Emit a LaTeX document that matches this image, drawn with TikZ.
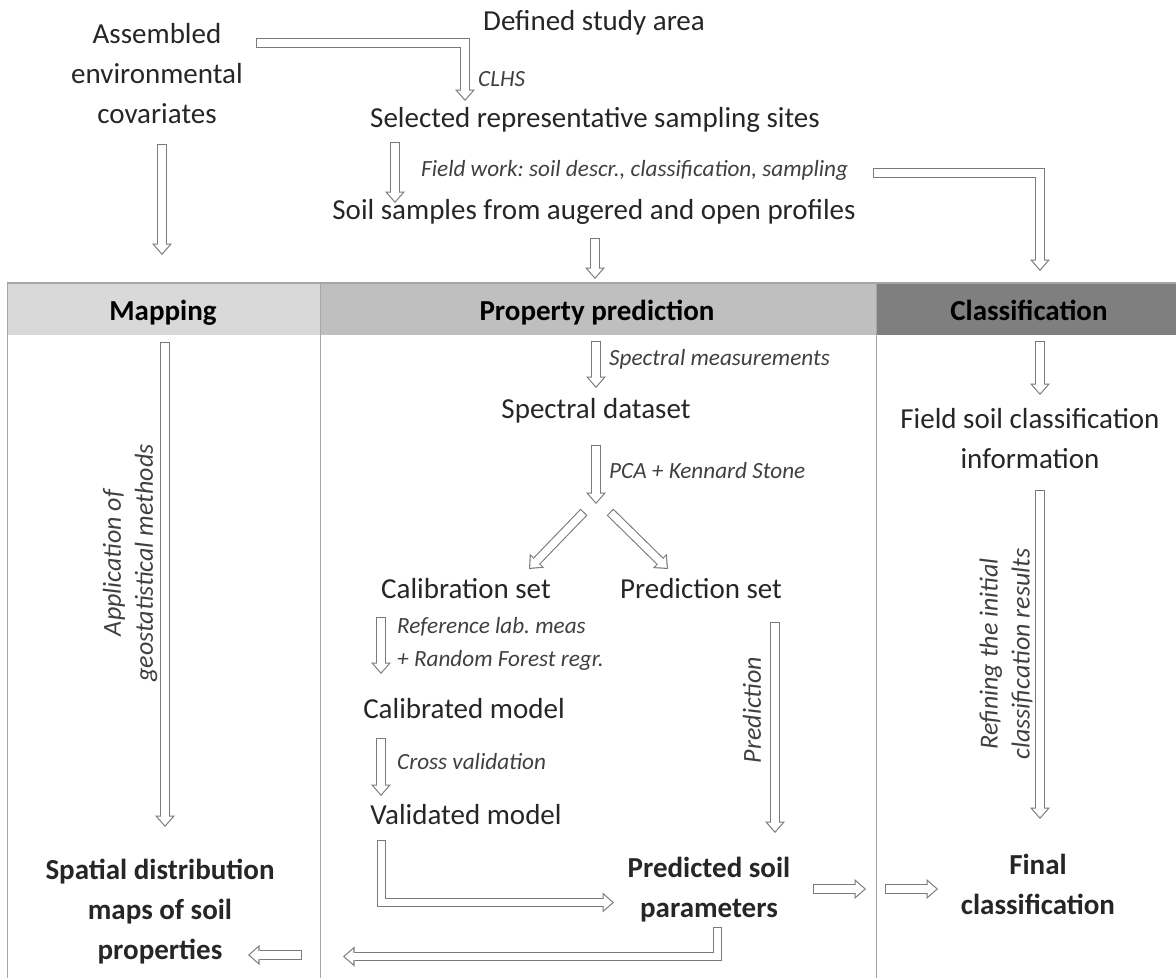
\documentclass[tikz,border=0pt]{standalone}
\usepackage{fontspec}
\setmainfont{Carlito}
\frenchspacing
\usetikzlibrary{arrows.meta}
\definecolor{txt}{HTML}{262626}
\definecolor{lbl}{HTML}{404040}
\definecolor{agray}{HTML}{7A7A7A}
\definecolor{hA}{HTML}{D9D9D9}
\definecolor{hB}{HTML}{BFBFBF}
\definecolor{hC}{HTML}{7F7F7F}
\definecolor{rulec}{HTML}{A6A6A6}
\begin{document}
\begin{tikzpicture}[x=1pt,y=-1pt,
  txtnode/.style={text=txt, font=\fontsize{29}{40}\selectfont, align=center, inner sep=0pt},
  boldnode/.style={text=txt, font=\fontsize{29}{40}\selectfont\bfseries, align=center, inner sep=0pt},
  headnode/.style={text=black, font=\fontsize{29}{40}\selectfont\bfseries, inner sep=0pt, anchor=base},
  lblnode/.style={text=lbl, font=\fontsize{23.2}{33}\selectfont\itshape, align=center, inner sep=0pt},
  rotlbl/.style={text=lbl, font=\fontsize{26}{32}\selectfont\itshape, align=center, inner sep=0pt, rotate=90},
  harrow/.style={draw=agray, line width=9.5pt, line join=miter,
    -{Triangle[length=11.5pt,width=20pt,line width=0pt]},
    postaction={draw=white, line width=7.3pt, line join=miter,
      -{Triangle[length=8.7pt,width=15.1pt,line width=0pt]},
      shorten >=1.7pt, shorten <=1.1pt}}
]
\path[use as bounding box] (0,0) rectangle (1176,978);

% panels
\fill[hA] (7,283) rectangle (320,335);
\fill[hB] (320,283) rectangle (876,335);
\fill[hC] (876,283) rectangle (1176,335);
\draw[rulec, line width=1.2pt] (7,283) -- (1176,283);
\draw[rulec, line width=1pt] (7,283) -- (7,978);
\draw[rulec, line width=1pt] (320,283) -- (320,978);
\draw[rulec, line width=1pt] (876,283) -- (876,978);

% headers
\node[headnode] (hmap) at (163,320) {Mapping};
\node[headnode] (hprop) at (597,320) {Property prediction};
\node[headnode] (hclass) at (1029,320) {Classification};

% top part
\node[txtnode] (assembled) at (157,74) {Assembled\\environmental\\covariates};
\node[txtnode] (study) at (594,23) {Defined study area};
\node[lblnode, anchor=west] (clhs) at (478,79) {CLHS};
\node[txtnode] (sites) at (595,120) {Selected representative sampling sites};
\node[lblnode, anchor=west] (field) at (421,170) {Field work: soil descr., classification, sampling};
\node[txtnode] (samples) at (594,212) {Soil samples from augered and open profiles};

% property prediction column
\node[lblnode, anchor=west] (specm) at (609,359) {Spectral measurements};
\node[txtnode] (specd) at (596,411) {Spectral dataset};
\node[lblnode, anchor=west] (pca) at (609,471) {PCA + Kennard Stone};
\node[txtnode] (calset) at (466,589) {Calibration set};
\node[txtnode] (predset) at (701,589) {Prediction set};
\node[lblnode, anchor=north west, align=left] (reflab) at (397,617) {Reference lab. meas\\+ Random Forest regr.};
\node[txtnode] (calmod) at (464,709) {Calibrated model};
\node[lblnode, anchor=west] (cross) at (397,762) {Cross validation};
\node[txtnode] (valmod) at (466,815) {Validated model};
\node[boldnode] (predsoil) at (709,890) {Predicted soil\\parameters};
\node[rotlbl] (predlbl) at (752,710) {Prediction};

% mapping column
\node[rotlbl] (geolbl) at (130,563) {Application of\\geostatistical methods};
\node[boldnode] (spatial) at (160,912) {Spatial distribution\\maps of soil\\properties};

% classification column
\node[txtnode] (fieldsoil) at (1030,439) {Field soil classification\\information};
\node[rotlbl] (reflbl) at (1006,654) {Refining the initial\\classification results};
\node[boldnode] (final) at (1038,884) {Final\\classification};

% arrow end points
\coordinate (a1s) at (256,43);   \coordinate (a1e) at (465,101);
\coordinate (a2s) at (395,142);  \coordinate (a2e) at (395,203);
\coordinate (a3s) at (873,173);  \coordinate (a3e) at (1040,271);
\coordinate (a4s) at (162,144);  \coordinate (a4e) at (162,255);
\coordinate (a5s) at (595,238);  \coordinate (a5e) at (595,279);
\coordinate (a6s) at (165,342);  \coordinate (a6e) at (165,827);
\coordinate (a7s) at (596,341);  \coordinate (a7e) at (596,388);
\coordinate (a8s) at (596,445);  \coordinate (a8e) at (596,504);
\coordinate (a9s) at (584,512);  \coordinate (a9e) at (529,569);
\coordinate (a10s) at (610,512); \coordinate (a10e) at (668,569);
\coordinate (a11s) at (381,617); \coordinate (a11e) at (381,674);
\coordinate (a12s) at (381,738); \coordinate (a12e) at (381,796);
\coordinate (a13s) at (381.5,840); \coordinate (a13e) at (614,902.5);
\coordinate (a14s) at (775,622); \coordinate (a14e) at (775,833);
\coordinate (a15s) at (717.5,927); \coordinate (a15e) at (343,956.5);
\coordinate (a16s) at (302,955); \coordinate (a16e) at (248,955);
\coordinate (a17s) at (813,889); \coordinate (a17e) at (866,889);
\coordinate (a18s) at (885,889); \coordinate (a18e) at (938,889);
\coordinate (a19s) at (1040,341); \coordinate (a19e) at (1040,395);
\coordinate (a20s) at (1040,490); \coordinate (a20e) at (1040,819);

\draw[harrow] (a1s) -| (a1e);
\draw[harrow] (a2s) -- (a2e);
\draw[harrow] (a3s) -| (a3e);
\draw[harrow] (a4s) -- (a4e);
\draw[harrow] (a5s) -- (a5e);
\draw[harrow] (a6s) -- (a6e);
\draw[harrow] (a7s) -- (a7e);
\draw[harrow] (a8s) -- (a8e);
\draw[harrow] (a9s) -- (a9e);
\draw[harrow] (a10s) -- (a10e);
\draw[harrow] (a11s) -- (a11e);
\draw[harrow] (a12s) -- (a12e);
\draw[harrow] (a13s) |- (a13e);
\draw[harrow] (a14s) -- (a14e);
\draw[harrow] (a15s) |- (a15e);
\draw[harrow] (a16s) -- (a16e);
\draw[harrow] (a17s) -- (a17e);
\draw[harrow] (a18s) -- (a18e);
\draw[harrow] (a19s) -- (a19e);
\draw[harrow] (a20s) -- (a20e);
\end{tikzpicture}
\end{document}
